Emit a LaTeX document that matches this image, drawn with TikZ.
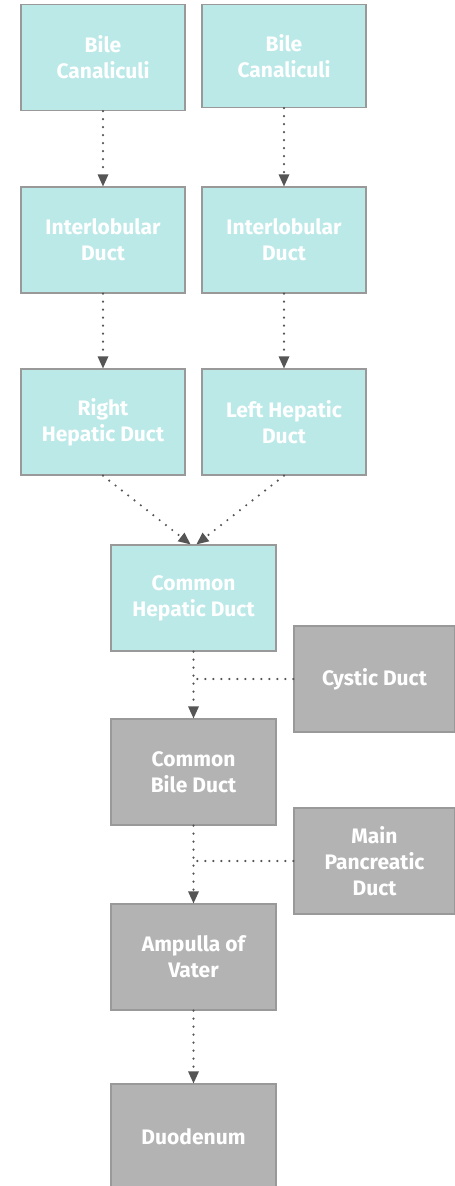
\documentclass[tikz,border=0pt]{standalone}
\usepackage{fontspec}
\setmainfont{Fira Sans}
\usetikzlibrary{arrows.meta}
\definecolor{cyanfill}{HTML}{BAE9E8}
\definecolor{greyfill}{HTML}{B3B3B3}
\definecolor{boxline}{HTML}{999999}
\definecolor{arrowcol}{HTML}{555555}
\tikzset{
  box/.style={draw=boxline, line width=1.3pt, minimum width=164pt, minimum height=106pt,
    text=white, align=center, font=\fontsize{21}{26}\selectfont\bfseries, inner sep=0pt},
  cbox/.style={box, fill=cyanfill},
  gbox/.style={box, fill=greyfill},
  flow/.style={draw=arrowcol, line width=2.4pt, dash pattern=on 0pt off 8pt, line cap=round,
    -{Triangle[length=12pt,width=11pt,line cap=butt,line width=0pt]}},
  joinline/.style={draw=arrowcol, line width=2.4pt, dash pattern=on 0pt off 8pt, line cap=round}
}
\begin{document}
\begin{tikzpicture}[x=1pt,y=-1pt]
\useasboundingbox (0,0) rectangle (455,1186);
\clip (0,0) rectangle (455,1186);
\node[cbox, minimum height=106pt] (bc1) at (103,57.5) {Bile\\Canaliculi};
\node[cbox, minimum height=103pt] (bc2) at (284,56) {Bile\\Canaliculi};
\node[cbox] (id1) at (103,240) {Interlobular\\Duct};
\node[cbox] (id2) at (284,240) {Interlobular\\Duct};
\node[cbox] (rh) at (103,422) {Right\\Hepatic Duct};
\node[cbox] (lh) at (284,422) {Left Hepatic\\Duct};
\node[cbox, minimum width=165pt] (chd) at (193.5,598) {Common\\Hepatic Duct};
\node[gbox, minimum width=161pt] (cy) at (374.5,679) {Cystic Duct};
\node[gbox, minimum width=165pt] (cbd) at (193.5,772) {Common\\Bile Duct};
\node[gbox, minimum width=161pt] (mpd) at (374.5,861) {Main\\Pancreatic\\Duct};
\node[gbox, minimum width=165pt] (amp) at (193.5,957) {Ampulla of\\Vater};
\node[gbox, minimum width=165pt] (duo) at (193.5,1137) {Duodenum};

\coordinate (j1) at (193.5,679);
\coordinate (j2) at (193.5,861);

\draw[flow] (bc1.south) -- (id1.north);
\draw[flow] (bc2.south) -- (id2.north);
\draw[flow] (id1.south) -- (rh.north);
\draw[flow] (id2.south) -- (lh.north);
\draw[flow] (rh.south) -- ([xshift=-3pt]chd.north);
\draw[flow] (lh.south) -- ([xshift=3pt]chd.north);
\draw[flow] (chd.south) -- (cbd.north);
\draw[joinline] (cy.west) -- (j1);
\draw[flow] (cbd.south) -- (amp.north);
\draw[joinline] (mpd.west) -- (j2);
\draw[flow] (amp.south) -- (duo.north);
\end{tikzpicture}
\end{document}
